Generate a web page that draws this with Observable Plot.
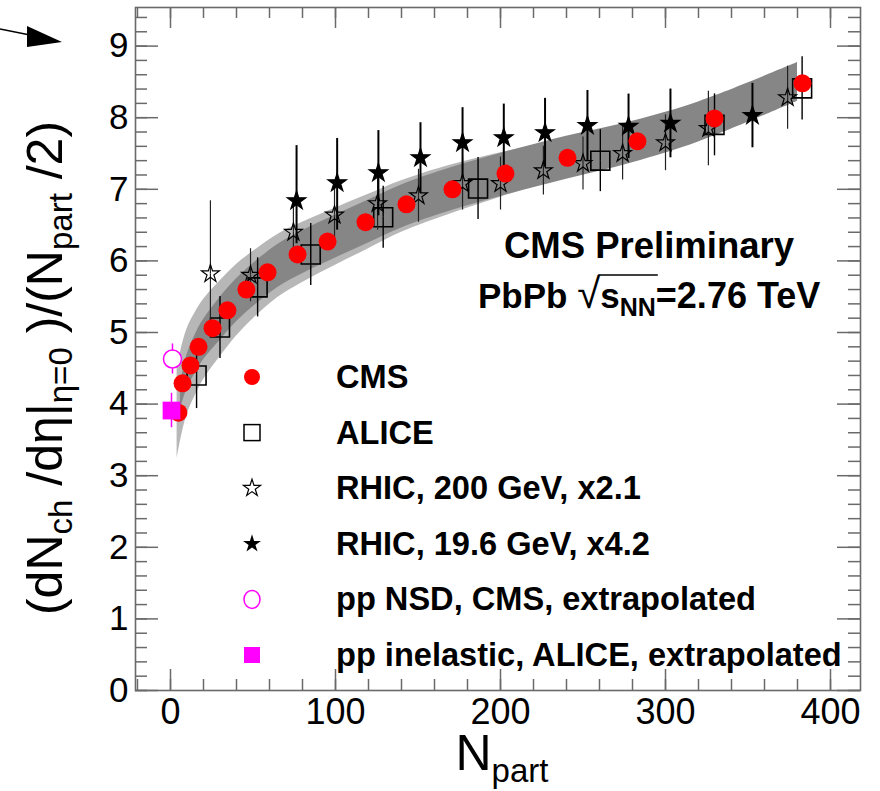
<!DOCTYPE html>
<html><head><meta charset="utf-8">
<script src="https://cdn.jsdelivr.net/npm/d3@7"></script>
<script src="https://cdn.jsdelivr.net/npm/@observablehq/plot@0.6"></script>
<style>body{margin:0;background:#fff;} #chart{width:880px;height:791px;} text{white-space:pre;}</style>
</head><body><div id="chart"></div>
<script>
// ---------- data ----------
const cmsN = [4.8, 7.3, 12.1, 17, 25.5, 34.5, 46, 58.8, 77, 95.2, 118.2, 143, 170.9, 203, 240.6, 283, 329.7, 383];
const cmsV = [3.88, 4.29, 4.54, 4.80, 5.06, 5.31, 5.60, 5.84, 6.09, 6.27, 6.54, 6.79, 7.00, 7.22, 7.44, 7.67, 7.99, 8.48];

const aliceN = [15.8, 30, 52.8, 85, 128.9, 186.4, 260.5, 329.7, 382.8];
const aliceV = [4.40, 5.07, 5.63, 6.09, 6.61, 7.01, 7.40, 7.90, 8.41];
const aliceE = [0.33, 0.30, 0.28, 0.30, 0.30, 0.30, 0.30, 0.30, 0.31];

const rhic200N = [24.2, 48.5, 74.5, 99.4, 125.5, 150.3, 177, 200, 226, 250, 274, 300, 326, 374];
const rhic200V = [5.82, 5.80, 6.40, 6.64, 6.80, 6.91, 7.08, 7.08, 7.26, 7.36, 7.50, 7.65, 7.85, 8.28];
const rhic200Hi = [0.95, 0.30, 0.35, 0.33, 0.30, 0.30, 0.30, 0.30, 0.27, 0.30, 0.30, 0.32, 0.45, 0.37];
const rhic200Lo = [0.62, 0.30, 0.35, 0.33, 0.30, 0.30, 0.30, 0.30, 0.27, 0.30, 0.30, 0.32, 0.45, 0.37];

const rhic19N = [76.4, 101, 126, 151.5, 177, 202, 227, 252.7, 277.6, 303, 352.7];
const rhic19V = [6.84, 7.09, 7.23, 7.44, 7.65, 7.72, 7.79, 7.89, 7.88, 7.92, 8.03];
const rhic19Hi = [0.77, 0.62, 0.59, 0.49, 0.49, 0.47, 0.48, 0.49, 0.45, 0.48, 0.45];
const rhic19Lo = [0.60, 0.66, 0.60, 0.50, 0.49, 0.47, 0.48, 0.49, 0.45, 0.48, 0.45];

const ppNsdN = [1.2], ppNsdV = [4.63], ppNsdE = [0.21];
const ppInelN = [0.6], ppInelV = [3.91], ppInelE = [0.24];

// systematic bands (centre and half widths)
const bandN     = [4,    6,    10,   15,   20,   30,   40,   50,   65,   80,   100,  120,  140,  170,  200,  240,  280,  320,  380];
const bandMid   = [3.86, 4.10, 4.45, 4.70, 4.90, 5.19, 5.45, 5.66, 5.93, 6.12, 6.34, 6.55, 6.76, 7.00, 7.20, 7.44, 7.66, 7.94, 8.50];
const lightHalf = [0.62, 0.62, 0.60, 0.58, 0.56, 0.53, 0.50, 0.47, 0.44, 0.42, 0.40, 0.38, 0.36, 0.34, 0.31, 0.27, 0.25, 0.24, 0.22];
const darkHalf  = [0.00, 0.18, 0.24, 0.27, 0.28, 0.30, 0.30, 0.30, 0.30, 0.30, 0.30, 0.30, 0.30, 0.30, 0.30, 0.30, 0.29, 0.28, 0.27];

const xTicks = [0, 100, 200, 300, 400];
const yTicks = [0, 1, 2, 3, 4, 5, 6, 7, 8, 9];

const legendLabels = ["CMS", "ALICE", "RHIC, 200 GeV, x2.1", "RHIC, 19.6 GeV, x4.2",
  "pp NSD, CMS, extrapolated", "pp inelastic, ALICE, extrapolated"];

// ---------- tables ----------
const cms = cmsN.map((n, i) => ({n, v: cmsV[i]}));
const alice = aliceN.map((n, i) => ({n, v: aliceV[i], e: aliceE[i]}));
const r200 = rhic200N.map((n, i) => ({n, v: rhic200V[i], hi: rhic200Hi[i], lo: rhic200Lo[i]}));
const r19 = rhic19N.map((n, i) => ({n, v: rhic19V[i], hi: rhic19Hi[i], lo: rhic19Lo[i]}));
const ppNsd = ppNsdN.map((n, i) => ({n, v: ppNsdV[i], e: ppNsdE[i]}));
const ppInel = ppInelN.map((n, i) => ({n, v: ppInelV[i], e: ppInelE[i]}));
const band = bandN.map((n, i) => ({n, lLo: bandMid[i] - lightHalf[i], lHi: bandMid[i] + lightHalf[i],
  dLo: bandMid[i] - darkHalf[i], dHi: bandMid[i] + darkHalf[i]}));
const bandDark = band.filter(d => d.dHi > d.dLo);

// ---------- layout ----------
const W = 880, H = 791;
const mL = 135, mR = 20, mT = 7, mB = 101;
const plotW = W - mL - mR, plotH = H - mT - mB;
const font = "'Liberation Sans', Arial, Helvetica, sans-serif";
const axisCol = "#6a6a6a";

const xMinor = d3.range(-20, 420, 20);
const xMajor = [0, 100, 200, 300, 400];
const yMinor = d3.range(0, 9.5, 0.2).map(d => +d.toFixed(1));
const yMajor = yTicks;

const plot = Plot.plot({
  width: W, height: H,
  marginLeft: mL, marginRight: mR, marginTop: mT, marginBottom: mB,
  x: {domain: [-35 / 1.65, 690 / 1.65]},
  y: {domain: [0, 683 / 71.6]},
  style: {fontFamily: font, background: "white", color: "black"},
  marks: [
    // bands
    Plot.areaY(band, {x: "n", y1: "lLo", y2: "lHi", fill: "#b7b7b7", curve: "catmull-rom"}),
    Plot.areaY(bandDark, {x: "n", y1: "dLo", y2: "dHi", fill: "#868686", curve: "catmull-rom"}),
    // ALICE
    Plot.ruleX(alice, {x: "n", y1: "v", y2: d => d.v + d.e, insetBottom: 9.5, stroke: "black", strokeWidth: 1.4}),
    Plot.ruleX(alice, {x: "n", y1: d => d.v - d.e, y2: "v", insetTop: 9.5, stroke: "black", strokeWidth: 1.4}),
    Plot.dot(alice, {x: "n", y: "v", symbol: "square", r: 10.7, fill: "none", stroke: "black", strokeWidth: 1.6}),
    // RHIC 200
    Plot.ruleX(r200, {x: "n", y1: "v", y2: d => d.v + d.hi, insetBottom: 5, stroke: "#222", strokeWidth: 1.2}),
    Plot.ruleX(r200, {x: "n", y1: d => d.v - d.lo, y2: "v", insetTop: 5, stroke: "#222", strokeWidth: 1.2}),
    Plot.dot(r200, {x: "n", y: "v", symbol: "star", r: 5.6, fill: "none", stroke: "black", strokeWidth: 1.2}),
    // RHIC 19.6
    Plot.ruleX(r19, {x: "n", y1: d => d.v - d.lo, y2: d => d.v + d.hi, stroke: "black", strokeWidth: 2}),
    Plot.dot(r19, {x: "n", y: "v", symbol: "star", r: 5.8, fill: "black", stroke: "black", strokeWidth: 1.2}),
    // CMS
    Plot.dot(cms, {x: "n", y: "v", r: 9, fill: "#ff0000"}),
    // pp points
    Plot.ruleX(ppNsd, {x: "n", y1: d => d.v - d.e, y2: d => d.v + d.e, stroke: "#ff00ff", strokeWidth: 1.5}),
    Plot.dot(ppNsd, {x: "n", y: "v", r: 9, fill: "white", stroke: "#ff00ff", strokeWidth: 1.5}),
    Plot.ruleX(ppInel, {x: "n", y1: d => d.v - d.e, y2: d => d.v + d.e, stroke: "#ff00ff", strokeWidth: 1.5}),
    Plot.dot(ppInel, {x: "n", y: "v", symbol: "square", r: 10, fill: "#ff00ff"}),
    // inward ticks on all four sides
    Plot.ruleX(xMinor, {x: d => d, insetTop: plotH - 11, stroke: axisCol, strokeWidth: 1.5}),
    Plot.ruleX(xMajor, {x: d => d, insetTop: plotH - 21, stroke: axisCol, strokeWidth: 1.5}),
    Plot.ruleX(xMinor, {x: d => d, insetBottom: plotH - 11, stroke: axisCol, strokeWidth: 1.5}),
    Plot.ruleX(xMajor, {x: d => d, insetBottom: plotH - 21, stroke: axisCol, strokeWidth: 1.5}),
    Plot.ruleY(yMinor, {y: d => d, insetRight: plotW - 12, stroke: axisCol, strokeWidth: 1.5}),
    Plot.ruleY(yMajor, {y: d => d, insetRight: plotW - 23, stroke: axisCol, strokeWidth: 1.5}),
    Plot.ruleY(yMinor, {y: d => d, insetLeft: plotW - 12, stroke: axisCol, strokeWidth: 1.5}),
    Plot.ruleY(yMajor, {y: d => d, insetLeft: plotW - 23, stroke: axisCol, strokeWidth: 1.5}),
    Plot.frame({stroke: axisCol, strokeWidth: 1.6}),
    Plot.axisX({ticks: xTicks, tickSize: 0, tickPadding: 8, fontSize: 36, label: null, fill: "black"}),
    Plot.axisY({ticks: yTicks, tickSize: 0, tickPadding: 7, fontSize: 35, label: null, fill: "black"})
  ]
});

document.getElementById("chart").appendChild(plot);
const svg = d3.select(plot);

function rich(parent, x, y, parts, opts = {}) {
  const t = parent.append("text").attr("x", x).attr("y", y)
    .attr("text-anchor", opts.anchor || "start")
    .attr("font-family", font).attr("font-weight", opts.weight || "normal")
    .attr("fill", "black");
  let cur = 0;
  for (const p of parts) {
    const shift = p.dy || 0;
    t.append("tspan").attr("dy", shift - cur).attr("font-size", p.size)
      .attr("font-weight", p.weight || null).text(p.t);
    cur = shift;
  }
  return t;
}

// arrow at top left
svg.append("line").attr("x1", 0).attr("y1", 29).attr("x2", 35).attr("y2", 36)
  .attr("stroke", "black").attr("stroke-width", 1.3);
svg.append("polygon").attr("points", "27,26 27,47 62,42").attr("fill", "black");

// header texts
rich(svg, 649, 258, [{t: "CMS Preliminary", size: 36.5}], {anchor: "middle", weight: "bold"});
const pb = rich(svg, 478, 308, [{t: "PbPb ", size: 35}, {t: "\u221a", size: 42, weight: "normal"}, {t: "s", size: 35},
  {t: "NN", size: 25, dy: 8}, {t: "=2.76 TeV", size: 36}], {weight: "bold"});
{
  const node = pb.node();
  const s2 = node.getExtentOfChar(8), r = node.getExtentOfChar(5);
  svg.append("line").attr("x1", r.x + r.width - 2).attr("x2", s2.x + s2.width + 2)
    .attr("y1", r.y + 5).attr("y2", r.y + 5).attr("stroke", "black").attr("stroke-width", 1.5);
}

// legend
const legG = svg.append("g");
const rowY = i => 377 + i * 55.6;
const mx = 252;
const sym = (type, size) => d3.symbol().type(type).size(size)();
legG.append("circle").attr("cx", mx).attr("cy", rowY(0)).attr("r", 8).attr("fill", "#ff0000");
legG.append("rect").attr("x", mx - 8).attr("y", rowY(1) - 8).attr("width", 16).attr("height", 16)
  .attr("fill", "none").attr("stroke", "black").attr("stroke-width", 1.5);
legG.append("path").attr("d", sym(d3.symbolStar, 90)).attr("transform", `translate(${mx},${rowY(2)})`)
  .attr("fill", "none").attr("stroke", "black").attr("stroke-width", 1.2);
legG.append("path").attr("d", sym(d3.symbolStar, 100)).attr("transform", `translate(${mx},${rowY(3)})`)
  .attr("fill", "black");
legG.append("ellipse").attr("cx", mx).attr("cy", rowY(4)).attr("rx", 8).attr("ry", 9)
  .attr("fill", "none").attr("stroke", "#ff00ff").attr("stroke-width", 1.5);
legG.append("rect").attr("x", mx - 8).attr("y", rowY(5) - 8).attr("width", 16).attr("height", 16)
  .attr("fill", "#ff00ff");
legendLabels.forEach((lab, i) => {
  rich(legG, 336, rowY(i) + 11, [{t: lab, size: 32.6}], {weight: "bold"});
});

// y axis title
const yg = svg.append("g").attr("transform", "translate(62,368) rotate(-90)");
rich(yg, 0, 0, [
  {t: "(dN", size: 50}, {t: "ch", size: 33, dy: 10}, {t: " /d\u03b7|", size: 50},
  {t: "\u03b7=0", size: 33, dy: 10}, {t: " )/(N", size: 50}, {t: "part", size: 33, dy: 10},
  {t: " /2)", size: 50}], {anchor: "middle"});

// x axis title
rich(svg, 502, 770, [{t: "N", size: 50}, {t: "part", size: 33, dy: 12}], {anchor: "middle"});
</script>
</body></html>
